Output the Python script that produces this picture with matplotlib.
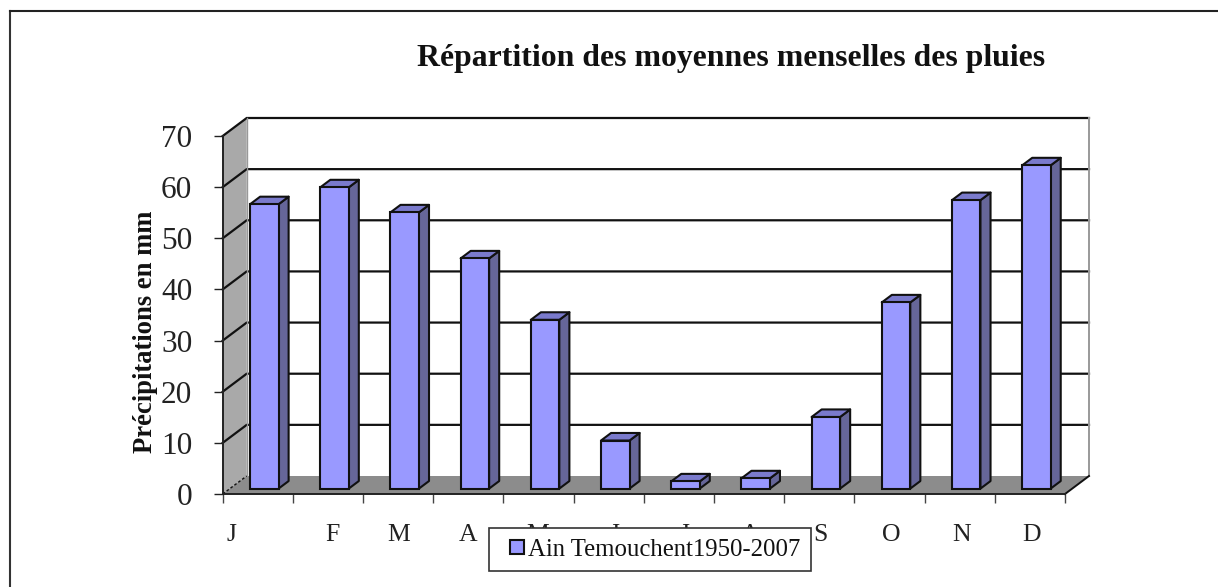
"""Répartition des moyennes menselles des pluies — barres en pseudo 3D"""

import matplotlib
matplotlib.use("Agg")
import matplotlib.pyplot as plt
from matplotlib.lines import Line2D
from matplotlib.patches import Polygon

months = ["J", "F", "M", "A", "M", "J", "J", "A", "S", "O", "N", "D"]
rain = [55.6, 58.9, 54.0, 45.0, 33.0, 9.4, 1.4, 2.0, 14.0, 36.4, 56.4, 63.2]
y_ticks = [0, 10, 20, 30, 40, 50, 60, 70]
legend_label = "Ain Temouchent1950-2007"

W, H = 1218, 587
X0, X1 = 222.7, 1065.0   # axe avant, en pixels
Y0, Y70 = 494.0, 136.0

# profondeur de la boite, en unites de donnees
PX_CAT = (X1 - X0) / 12
PX_MM = (Y0 - Y70) / 70
DX = 24 / PX_CAT
DY = 18 / PX_MM

BAR_W = 28.5 / PX_CAT
BAR_D0 = 0.30      # debut de la barre dans la profondeur
BAR_D1 = 0.72
BAR_SHIFT = -0.01

FRONT = "#9999ff"
SIDE = "#666699"
TOP = "#7a7acc"
WALL = "#a9a9a9"
FLOOR = "#8c8c8c"
LINE = "#111111"

plt.rcParams["font.family"] = ["Liberation Serif", "DejaVu Serif"]

fig = plt.figure(figsize=(W / 100, H / 100), dpi=100)
ax = fig.add_axes([X0 / W, 1 - Y0 / H, (X1 - X0) / W, (Y0 - Y70) / H])
ax.set_xlim(0, 12)
ax.set_ylim(0, 70)
ax.patch.set_visible(False)

# cadre exterieur : seulement en haut et a gauche, le reste sort de l'image
fig.add_artist(Line2D([9.5 / W, 9.5 / W], [0, 1 - 11 / H], color="#333333", lw=1.5))
fig.add_artist(Line2D([9.5 / W, 1], [1 - 11 / H, 1 - 11 / H], color="#222222", lw=1.5))

# fond, paroi gauche, sol
ax.add_patch(Polygon([(DX, DY), (12 + DX, DY), (12 + DX, 70 + DY), (DX, 70 + DY)],
                     fc="white", ec="none", clip_on=False, zorder=1))
ax.add_patch(Polygon([(0, 0), (DX, DY), (DX, 70 + DY), (0, 70)],
                     fc=WALL, ec="none", clip_on=False, zorder=1))
ax.add_patch(Polygon([(0, 0), (12, 0), (12 + DX, DY), (DX, DY)],
                     fc=FLOOR, ec="none", clip_on=False, zorder=1))

# grille
for v in y_ticks[1:]:
    ax.plot([0, DX, 12 + DX], [v, v + DY, v + DY], color=LINE, lw=1.6,
            clip_on=False, zorder=2, solid_joinstyle="miter")
ax.plot([12 + DX, 12 + DX], [DY, 70 + DY], color="#999999", lw=1.4, clip_on=False, zorder=2)
ax.plot([DX, DX], [DY, 70 + DY], color="#999999", lw=1.0, clip_on=False, zorder=2)
ax.plot([0, DX], [0, DY], color=LINE, lw=1.0, ls=(0, (2, 1.5)), clip_on=False, zorder=2)
ax.plot([12, 12 + DX], [0, DY], color=LINE, lw=1.4, clip_on=False, zorder=2)

# barres
for i, v in enumerate(rain):
    left = i + 0.5 - BAR_W / 2 + BAR_D0 * DX + BAR_SHIFT
    right = left + BAR_W
    base = BAR_D0 * DY
    ddx = (BAR_D1 - BAR_D0) * DX
    ddy = (BAR_D1 - BAR_D0) * DY
    kw = dict(ec=LINE, lw=1.5, clip_on=False, zorder=3, joinstyle="round")
    ax.add_patch(Polygon([(right, base), (right + ddx, base + ddy),
                          (right + ddx, base + v + ddy), (right, base + v)], fc=SIDE, **kw))
    ax.add_patch(Polygon([(left, base + v), (right, base + v),
                          (right + ddx, base + v + ddy), (left + ddx, base + v + ddy)], fc=TOP, **kw))
    ax.bar(left, v, BAR_W, bottom=base, align="edge", color=FRONT, edgecolor=LINE,
           linewidth=1.5, clip_on=False, zorder=4)

# axes
for s in ["top", "right"]:
    ax.spines[s].set_visible(False)
for s in ["left", "bottom"]:
    ax.spines[s].set_linewidth(1.4)
    ax.spines[s].set_color("#222222")
    ax.spines[s].set_zorder(5)
ax.set_yticks(y_ticks)
ax.tick_params(axis="y", length=9.5 * 0.72, width=1.0, color="#222222",
               labelsize=22.5, pad=15, labelcolor="#222222")
ax.set_xticks(range(13))
ax.set_xticklabels([])
ax.tick_params(axis="x", length=9 * 0.72, width=1.0, color="#444444")

# etiquettes des mois (le premier J est decale a gauche)
label_x = [0.13, 1.56, 2.50, 3.50, 4.48, 5.58, 6.58, 7.52, 8.51, 9.53, 10.52, 11.52]
for x, m in zip(label_x, months):
    ax.annotate(m, (x, 0), xytext=(0, -47), textcoords="offset pixels", ha="center",
                va="baseline", fontsize=18.5, color="#222222", annotation_clip=False)

fig.text(731 / W, 1 - 58.5 / H, "Répartition des moyennes menselles des pluies",
         ha="center", va="center", fontsize=22.9, fontweight="bold", color="#111111")
fig.text(145 / W, 1 - 332 / H, "Précipitations en mm", rotation=90, ha="center",
         va="center", fontsize=19.2, fontweight="bold", color="#111111")

handle = Line2D([], [], ls="none", marker="s", ms=9.4, mfc=FRONT, mec=LINE, mew=1.5)
leg = ax.legend(handles=[handle], labels=[legend_label], numpoints=1,
                loc="center", bbox_to_anchor=(650 / W, 1 - 549.5 / H),
                bbox_transform=fig.transFigure, fontsize=17.8, fancybox=False,
                framealpha=1, edgecolor="#333333", handlelength=1.42,
                handletextpad=-0.24, borderpad=0.41, labelcolor="#111111")
leg.get_frame().set_linewidth(1.2)
leg.set_zorder(10)

fig.savefig("out.png", dpi=100)
